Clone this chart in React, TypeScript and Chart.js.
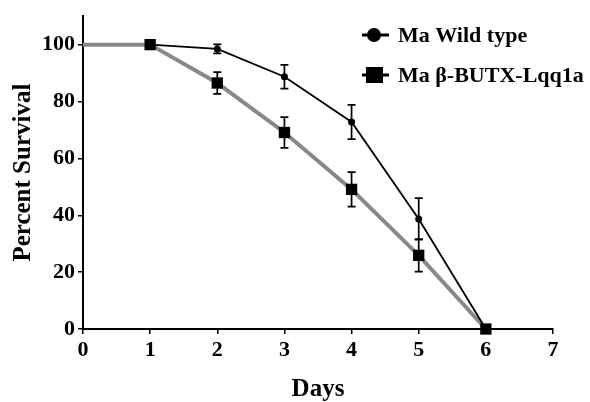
import React, { useEffect, useRef } from "react";
import { Chart, registerables } from "chart.js";

Chart.register(...registerables);

const days = [0, 1, 2, 3, 4, 5, 6];
const wildType = [null, 100, 98.5, 88.7, 72.8, 38.7, 0];
const wildErr = [0, 0, 1.6, 4.2, 6.0, 7.3, 0];
const butx = [100, 100, 86.5, 69.1, 49.1, 25.9, 0];
const butxErr = [0, 0, 3.8, 5.4, 6.1, 5.7, 0];
const yTickValues = [0, 20, 40, 60, 80, 100];
const seriesNames = ["Ma Wild type", "Ma \u03B2-BUTX-Lqq1a"];
const xTitle = "Days";
const yTitle = "Percent Survival";

const FONT = '"Liberation Serif", "Times New Roman", serif';

const errorBarPlugin = {
  id: "errorBars",
  afterDatasetsDraw(chart: any) {
    const ctx = chart.ctx;
    const xs = chart.scales.x;
    const ys = chart.scales.y;
    ctx.save();
    ctx.strokeStyle = "#000";
    ctx.lineWidth = 1.7;
    const draw = (vals: (number | null)[], errs: number[]) => {
      vals.forEach((v, i) => {
        if (v === null || !errs[i]) return;
        const x = xs.getPixelForValue(days[i]);
        const yt = ys.getPixelForValue(v + errs[i]);
        const yb = ys.getPixelForValue(v - errs[i]);
        ctx.beginPath();
        ctx.moveTo(x, yt);
        ctx.lineTo(x, yb);
        ctx.moveTo(x - 4, yt);
        ctx.lineTo(x + 4, yt);
        ctx.moveTo(x - 4, yb);
        ctx.lineTo(x + 4, yb);
        ctx.stroke();
      });
    };
    draw(wildType, wildErr);
    draw(butx, butxErr);
    ctx.restore();
  },
};

const legendPlugin = {
  id: "customLegend",
  afterDraw(chart: any) {
    const ctx = chart.ctx;
    ctx.save();
    ctx.fillStyle = "#000";
    ctx.strokeStyle = "#000";
    ctx.lineWidth = 3;
    ctx.beginPath();
    ctx.moveTo(362, 35);
    ctx.lineTo(389, 35);
    ctx.stroke();
    ctx.beginPath();
    ctx.arc(374, 35, 7, 0, Math.PI * 2);
    ctx.fill();
    ctx.beginPath();
    ctx.moveTo(362, 75);
    ctx.lineTo(389, 75);
    ctx.stroke();
    ctx.fillRect(366, 67, 17, 16);
    ctx.font = `bold 22px ${FONT}`;
    ctx.textBaseline = "middle";
    ctx.textAlign = "left";
    ctx.fillText(seriesNames[0], 398, 36);
    ctx.fillText(seriesNames[1], 398, 76);
    ctx.restore();
  },
};

export default function App() {
  const ref = useRef<HTMLCanvasElement>(null);
  useEffect(() => {
    if (!ref.current) return;
    const chart = new Chart(ref.current, {
      type: "line",
      data: {
        datasets: [
          {
            label: seriesNames[1],
            data: days.map((d, i) => ({ x: d, y: butx[i] })),
            borderColor: "#888888",
            borderWidth: 4,
            pointRadius: 0,
            order: 3,
            clip: false,
          },
          {
            label: seriesNames[0],
            data: days
              .map((d, i) => ({ x: d, y: wildType[i] }))
              .filter((p) => p.y !== null),
            borderColor: "#000",
            borderWidth: 1.8,
            pointStyle: "circle",
            pointRadius: 3.5,
            pointBackgroundColor: "#000",
            pointBorderWidth: 0,
            order: 2,
            clip: false,
          },
          {
            label: seriesNames[1] + " points",
            data: days.map((d, i) => ({ x: d, y: butx[i] })),
            showLine: false,
            pointStyle: "rect",
            pointRadius: days.map((d) => (d === 0 ? 0 : 8)),
            pointBackgroundColor: "#000",
            pointBorderWidth: 0,
            order: 1,
            clip: false,
          },
        ],
      },
      options: {
        responsive: false,
        animation: false,
        layout: { padding: { top: 15, right: 37, left: 0, bottom: 0 } },
        plugins: {
          legend: { display: false },
          tooltip: { enabled: false },
        },
        scales: {
          x: {
            type: "linear",
            min: 0,
            max: 7,
            ticks: {
              stepSize: 1,
              color: "#000",
              padding: 3,
              font: { family: FONT, size: 22, weight: "bold" },
            },
            grid: {
              display: true,
              drawOnChartArea: false,
              drawTicks: true,
              tickLength: 5,
              color: "#000",
              lineWidth: 1.5,
            },
            border: { display: true, color: "#000", width: 2 },
            title: {
              display: true,
              text: xTitle,
              color: "#000",
              font: { family: FONT, size: 25, weight: "bold", lineHeight: 1 },
              padding: { top: 0, bottom: 0 },
            },
            afterFit: (s: any) => {
              s.height = 73;
            },
          },
          y: {
            type: "linear",
            min: 0,
            max: 110,
            afterBuildTicks: (s: any) => {
              s.ticks = yTickValues.map((v) => ({ value: v }));
            },
            ticks: {
              color: "#000",
              padding: 3,
              font: { family: FONT, size: 22, weight: "bold" },
            },
            grid: {
              display: true,
              drawOnChartArea: false,
              drawTicks: true,
              tickLength: 5,
              color: "#000",
              lineWidth: 1.5,
            },
            border: { display: true, color: "#000", width: 2 },
            title: {
              display: true,
              text: yTitle,
              color: "#000",
              font: { family: FONT, size: 25, weight: "bold", lineHeight: 1 },
              padding: { top: 11, bottom: 0 },
            },
            afterFit: (s: any) => {
              s.width = 83;
            },
          },
        },
      },
      plugins: [errorBarPlugin, legendPlugin],
    });
    return () => chart.destroy();
  }, []);
  return (
    <div style={{ position: "absolute", left: 0, top: 0, width: 590, height: 402, background: "#fff" }}>
      <canvas ref={ref} width={590} height={402} />
    </div>
  );
}
